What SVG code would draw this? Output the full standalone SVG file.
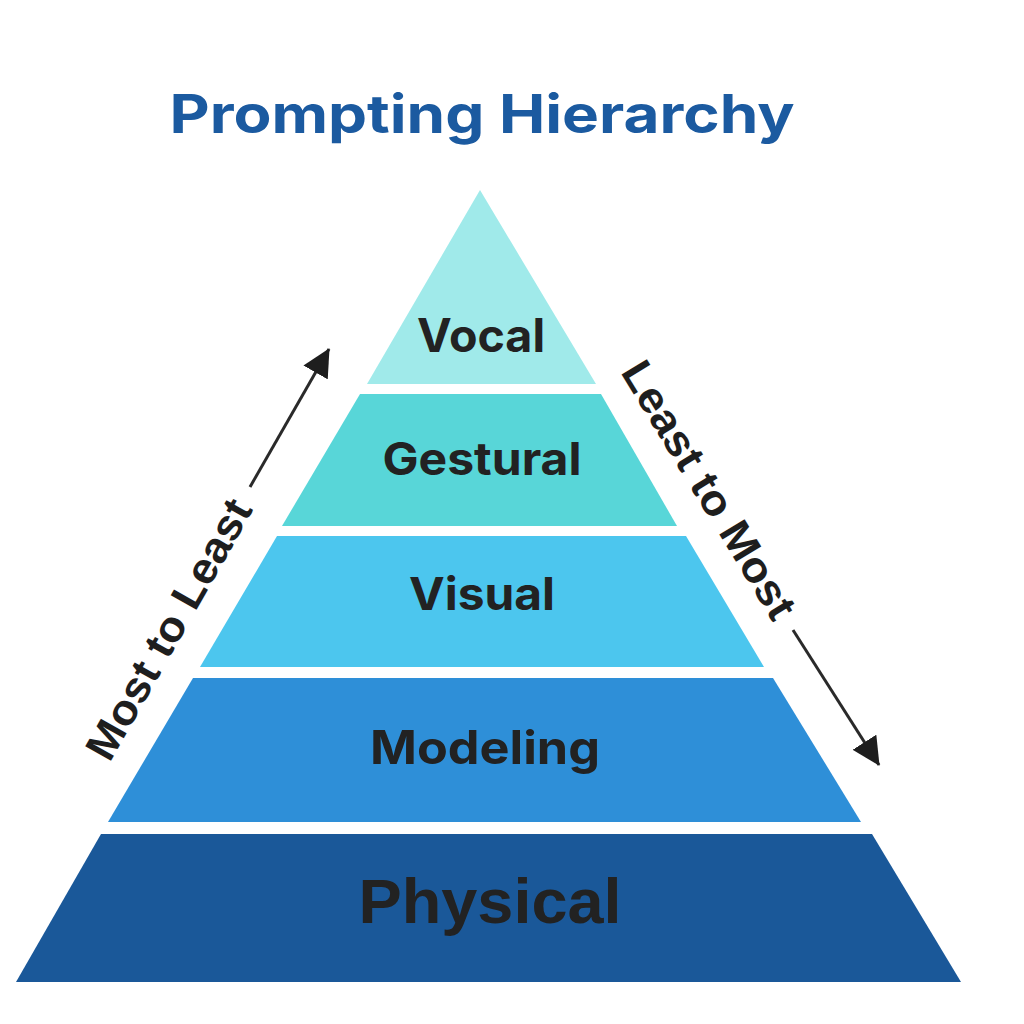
<svg xmlns="http://www.w3.org/2000/svg" width="1024" height="1024" viewBox="0 0 1024 1024">
<defs>
<style>
.lbl{font-family:Inter,Roboto,"Liberation Sans",sans-serif;font-weight:700;fill:#222;text-anchor:middle}
.side{font-family:"Liberation Sans",Arial,sans-serif;font-weight:700;fill:#1e1e1e;font-size:43px;text-anchor:middle}
.title{font-family:Inter,Roboto,"Liberation Sans",sans-serif;font-weight:700;fill:#1b5aa0;font-size:53px;text-anchor:middle}
.arr{stroke:#2a2a2a;stroke-width:3;fill:none}
</style>
<marker id="head" viewBox="0 0 28 28" refX="27" refY="14" markerWidth="28" markerHeight="28" markerUnits="userSpaceOnUse" orient="auto">
<path d="M0,0 L28,14 L0,28 Z" fill="#1e1e1e"/>
</marker>
</defs>
<rect width="1024" height="1024" fill="#ffffff"/>
<text class="title" x="482" y="133" textLength="625" lengthAdjust="spacingAndGlyphs">Prompting Hierarchy</text>
<g id="vocal">
<polygon points="480,190 596,384 367,384" fill="#a0eaea"/>
<text class="lbl" x="481" y="352" font-size="46" textLength="128" lengthAdjust="spacingAndGlyphs">Vocal</text>
</g>
<g id="gestural">
<polygon points="360,394 601,394 677,526 282,526" fill="#58d6d8"/>
<text class="lbl" x="482" y="475" font-size="45" textLength="199" lengthAdjust="spacingAndGlyphs">Gestural</text>
</g>
<g id="visual">
<polygon points="277,536 686,536 764,667 200,667" fill="#4cc6ee"/>
<text class="lbl" x="482" y="610" font-size="45" textLength="146" lengthAdjust="spacingAndGlyphs">Visual</text>
</g>
<g id="modeling">
<polygon points="193,678 773,678 861,822 108,822" fill="#2e8fd8"/>
<text class="lbl" x="485" y="764" font-size="46" textLength="230" lengthAdjust="spacingAndGlyphs">Modeling</text>
</g>
<g id="physical">
<polygon points="101,834 872,834 961,982 16,982" fill="#1a5899"/>
<text class="lbl" x="490" y="923" font-size="63" textLength="263" lengthAdjust="spacingAndGlyphs" style="font-family:'Liberation Sans',Arial,sans-serif">Physical</text>
</g>
<g id="connectors">
<line class="arr" x1="250" y1="487" x2="329" y2="349" marker-end="url(#head)"/>
<line class="arr" x1="793" y1="630" x2="879" y2="765" marker-end="url(#head)"/>
</g>
<g id="side-labels">
<text class="side" transform="translate(181.5,636.5) rotate(-60.5)" textLength="292" lengthAdjust="spacingAndGlyphs">Most to Least</text>
<text class="side" transform="translate(696.5,497.5) rotate(58.6)" textLength="294" lengthAdjust="spacingAndGlyphs">Least to Most</text>
</g>
</svg>
